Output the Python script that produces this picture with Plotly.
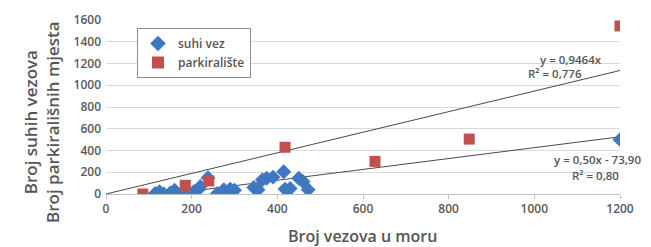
import plotly.graph_objects as go

# suhi vez (dry berths)
suhi_x = [115, 125, 135, 150, 160, 175, 185, 195, 205, 215, 220, 238, 260, 275, 290, 300,
          345, 355, 365, 375, 390, 415, 418, 430, 450, 460, 472, 1200]
suhi_y = [5, 20, 0, 10, 35, 0, 0, 10, 20, 40, 70, 150, 5, 40, 45, 35,
          60, 40, 130, 145, 155, 205, 45, 50, 145, 115, 40, 500]

# parkiralište (parking)
park_x = [86, 185, 240, 418, 628, 848, 1200]
park_y = [0, 80, 120, 430, 300, 505, 1545]

trend_park_slope = 0.9464
trend_suhi_slope, trend_suhi_icpt = 0.50, -73.90
trend_x_park = [0, 1200]
trend_x_suhi = [115, 1200]

x_ticks = [0, 200, 400, 600, 800, 1000, 1200]
y_ticks = [0, 200, 400, 600, 800, 1000, 1200, 1400, 1600]

FONT = "Open Sans, sans-serif"

fig = go.Figure()
fig.add_trace(go.Scatter(x=trend_x_park, y=[trend_park_slope * v for v in trend_x_park],
                         mode="lines", line=dict(color="#4a4a4a", width=1), showlegend=False,
                         hoverinfo="skip"))
fig.add_trace(go.Scatter(x=trend_x_suhi, y=[trend_suhi_slope * v + trend_suhi_icpt for v in trend_x_suhi],
                         mode="lines", line=dict(color="#4a4a4a", width=1), showlegend=False,
                         hoverinfo="skip"))
fig.add_trace(go.Scatter(x=suhi_x, y=suhi_y, mode="markers", name="suhi vez",
                         marker=dict(symbol="diamond", size=11.5, color="#3f78c2")))
fig.add_trace(go.Scatter(x=park_x, y=park_y, mode="markers", name="parkiralište",
                         marker=dict(symbol="square", size=11, color="#c0504d")))

ann_font = dict(family=FONT, size=11.5, color="#555555", weight=600)
# plot area spans x 106..620, y 20..194 px
def px(xp):
    return (xp - 106) / 514.0
def py(yp):
    return (194 - yp) / 174.0

fig.add_annotation(x=px(604), y=py(59), xref="paper", yref="paper", text="y = 0,9464x",
                   showarrow=False, xanchor="right", yanchor="middle", font=ann_font)
fig.add_annotation(x=px(584), y=py(73), xref="paper", yref="paper", text="R² = 0,776",
                   showarrow=False, xanchor="right", yanchor="middle", font=ann_font)
fig.add_annotation(x=px(643), y=py(159), xref="paper", yref="paper", text="y = 0,50x - 73,90",
                   showarrow=False, xanchor="right", yanchor="middle", font=ann_font)
fig.add_annotation(x=px(621), y=py(175), xref="paper", yref="paper", text="R² = 0,80",
                   showarrow=False, xanchor="right", yanchor="middle", font=ann_font)

# axis titles
fig.add_annotation(x=px(41), y=py(122), xref="paper", yref="paper",
                   text="Broj suhih vezova<br>Broj parkirališnih mjesta", textangle=-90,
                   showarrow=False, xanchor="center", yanchor="middle",
                   font=dict(family=FONT, size=17, color="#555555", weight=600))
fig.add_annotation(x=px(362), y=py(236), xref="paper", yref="paper",
                   text="Broj vezova u moru", showarrow=False, xanchor="center", yanchor="middle",
                   font=dict(family=FONT, size=16, color="#555555", weight=600))

fig.update_layout(
    width=651, height=247,
    margin=dict(l=106, r=31, t=20, b=53, autoexpand=False),
    paper_bgcolor="white", plot_bgcolor="white",
    font=dict(family=FONT, color="#595959", size=12, weight=600),
    legend=dict(x=px(137), y=py(28), xanchor="left", yanchor="top",
                bordercolor="#8c8c8c", borderwidth=1, bgcolor="white",
                font=dict(size=12, color="#555555", weight=600), itemwidth=30, tracegroupgap=0,
                itemsizing="constant"),
    xaxis=dict(range=[0, 1200], tickvals=x_ticks, showgrid=False, zeroline=False,
               showline=True, linecolor="#bfbfbf", linewidth=1, ticks="outside",
               tickcolor="#bfbfbf", ticklen=4, automargin=False),
    yaxis=dict(range=[0, 1600], tickvals=y_ticks, showgrid=True, gridcolor="#d9d9d9",
               zeroline=False, showline=False, ticks="", ticklabelstandoff=4, automargin=False),
)

fig.write_html("out.html", config={"displayModeBar": False},
               post_script="document.body.style.margin='0px';")
